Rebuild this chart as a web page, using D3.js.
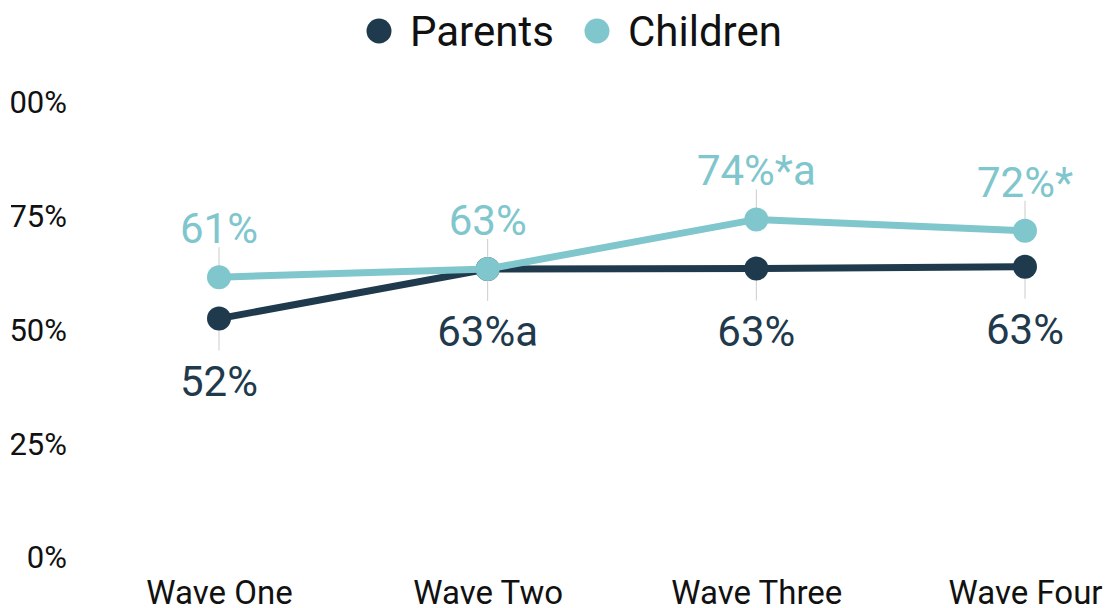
<!DOCTYPE html>
<html><head><meta charset="utf-8">
<script src="https://cdn.jsdelivr.net/npm/d3@7"></script>
<style>body{margin:0;background:#fff;}svg{display:block;font-family:Roboto,sans-serif;}</style>
</head><body><svg id="c" width="1107" height="608"></svg>
<script>
const categories = ["Wave One","Wave Two","Wave Three","Wave Four"];
const parents = [52.4, 63.3, 63.4, 63.8];
const children = [61.5, 63.3, 74.2, 71.7];
const parentLabels = ["52%","63%a","63%","63%"];
const childLabels = ["61%","63%","74%*a","72%*"];
const yTicks = [0,25,50,75,100];
const tickLabels = ["0%","25%","50%","75%","100%"];
const seriesNames = ["Parents","Children"];
const colors = ["#1f3a4c","#80c6cd"];

const svg = d3.select("#c");
const x = d3.scalePoint().domain(categories).range([219,1025]);
const y = d3.scaleLinear().domain([0,100]).range([557,102]);

svg.append("defs").append("clipPath").attr("id","yclip")
  .append("rect").attr("x",-56).attr("y",0).attr("width",200).attr("height",608);

// y axis
const ya = svg.append("g").attr("transform","translate(67,0)").attr("clip-path","url(#yclip)")
  .call(d3.axisLeft(y).tickValues(yTicks).tickFormat((d,i)=>tickLabels[i]).tickSize(0).tickPadding(0));
ya.select(".domain").remove();
ya.selectAll("text").attr("font-size",31).attr("font-family","Roboto").attr("fill","#111").attr("dy","0.35em");

// x axis
const xa = svg.append("g").attr("transform","translate(0,575)")
  .call(d3.axisBottom(x).tickSize(0).tickPadding(0));
xa.select(".domain").remove();
xa.selectAll("text").attr("font-size",33).attr("font-family","Roboto").attr("fill","#111").attr("y",29).attr("dy","0");

// leader lines
const data = [parents, children];
const labels = [parentLabels, childLabels];
categories.forEach((c,i)=>{
  svg.append("line").attr("x1",x(c)).attr("x2",x(c)).attr("y1",y(children[i])-10).attr("y2",y(children[i])-30)
    .attr("stroke","#ccc").attr("stroke-width",1);
  svg.append("line").attr("x1",x(c)).attr("x2",x(c)).attr("y1",y(parents[i])+10).attr("y2",y(parents[i])+32)
    .attr("stroke","#ccc").attr("stroke-width",1);
});

const line = d3.line().x((d,i)=>x(categories[i])).y(d=>y(d));
[0,1].forEach(s=>{
  const g = svg.append("g");
  g.append("path").datum(data[s]).attr("d",line).attr("fill","none").attr("stroke",colors[s]).attr("stroke-width",7);
  g.selectAll("circle").data(data[s]).join("circle")
    .attr("cx",(d,i)=>x(categories[i])).attr("cy",d=>y(d)).attr("r",12).attr("fill",colors[s]);
});

// data labels
[0,1].forEach(s=>{
  svg.append("g").selectAll("text").data(data[s]).join("text")
    .attr("x",(d,i)=>x(categories[i])).attr("y",d=> s===1 ? y(d)-34 : y(d)+77)
    .attr("text-anchor","middle").attr("font-size",42).attr("font-family","Roboto")
    .attr("fill",colors[s]).attr("stroke","#fff").attr("stroke-width",4).attr("paint-order","stroke")
    .attr("stroke-linejoin","round")
    .text((d,i)=>labels[s][i]);
});

// legend
const lg = svg.append("g");
const lx = [379, 597];
seriesNames.forEach((n,i)=>{
  lg.append("circle").attr("cx",lx[i]).attr("cy",31).attr("r",12.5).attr("fill",colors[i]);
  lg.append("text").attr("x",lx[i]+31).attr("y",31).attr("dy","0.35em").attr("font-size",42)
    .attr("font-family","Roboto").attr("fill","#111").text(n);
});
</script></body></html>
